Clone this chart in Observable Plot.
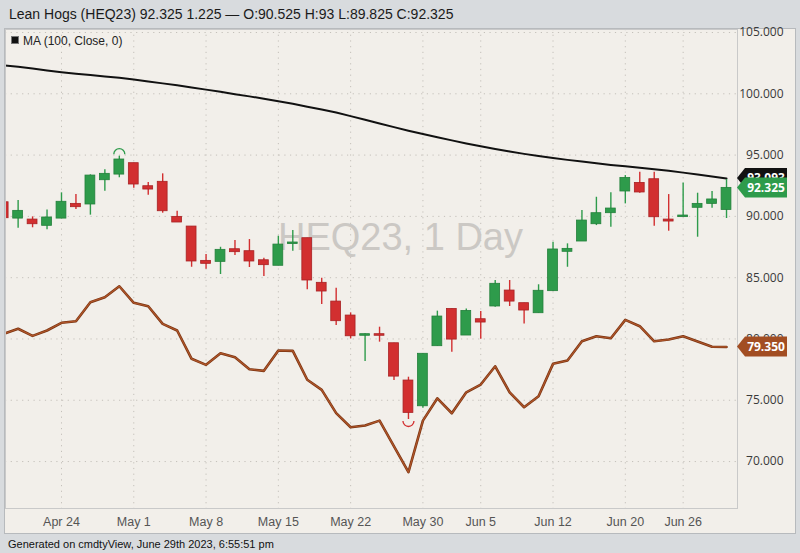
<!DOCTYPE html>
<html><head><meta charset="utf-8">
<script src="https://cdn.jsdelivr.net/npm/d3@7"></script>
<script src="https://cdn.jsdelivr.net/npm/@observablehq/plot@0.6"></script>
<style>
html,body{margin:0;padding:0;background:#d8dbde;}
#chart{width:800px;height:553px;position:relative;}
</style></head><body><div id="chart"></div>
<script>
// Trading days (categories)
const dates = ["Apr 18","Apr 19","Apr 20","Apr 21","Apr 24","Apr 25","Apr 26","Apr 27","Apr 28",
  "May 1","May 2","May 3","May 4","May 5","May 8","May 9","May 10","May 11","May 12",
  "May 15","May 16","May 17","May 18","May 19","May 22","May 23","May 24","May 25","May 26",
  "May 30","May 31","Jun 1","Jun 2","Jun 5","Jun 6","Jun 7","Jun 8","Jun 9",
  "Jun 12","Jun 13","Jun 14","Jun 15","Jun 16","Jun 20","Jun 21","Jun 22","Jun 23",
  "Jun 26","Jun 27","Jun 28","Jun 29"];
const opens = [91.15,89.82,89.74,89.23,89.82,91.02,90.97,92.95,93.41,
  94.34,92.46,92.82,89.96,89.17,86.37,86.29,87.32,87.16,86.42,
  85.97,87.76,88.22,84.58,83.05,81.91,80.34,80.39,79.65,76.61,
  74.51,79.41,82.45,80.28,81.61,82.65,83.95,82.92,82.10,
  83.90,87.11,87.95,89.36,90.26,92.03,92.73,93.03,89.74,
  89.96,90.70,91.02,90.525];
const highs = [91.30,91.30,89.96,90.53,91.92,91.78,93.39,93.80,94.91,
  94.34,92.76,93.47,90.42,89.17,86.89,87.48,88.03,88.11,86.59,
  88.38,88.85,88.22,84.96,84.14,82.13,80.42,80.96,79.65,76.88,
  78.79,82.27,82.45,82.45,82.24,84.77,84.77,82.92,84.42,
  87.89,87.76,90.48,91.56,91.92,93.33,93.60,93.60,91.78,
  92.73,91.89,92.03,93.00];
const lows = [89.70,89.03,89.07,88.90,89.80,90.56,90.10,92.05,93.15,
  92.30,91.73,90.26,89.50,85.85,85.69,85.26,86.81,85.83,85.09,
  85.97,87.16,84.01,82.81,81.09,80.00,78.16,79.74,76.61,73.43,
  74.35,79.41,78.92,80.28,79.98,82.59,82.65,81.23,82.10,
  83.90,85.85,87.95,89.25,89.12,91.02,91.89,89.20,88.79,
  89.96,88.30,90.67,89.825];
const closes = [89.85,90.45,89.36,89.91,91.19,90.75,93.33,93.47,94.64,
  92.60,92.19,90.42,89.50,86.32,86.13,87.27,87.08,86.32,86.02,
  87.70,87.87,84.77,83.87,81.45,80.22,80.39,80.28,76.93,73.97,
  78.79,81.83,79.95,82.29,81.34,84.50,83.05,82.32,83.93,
  87.30,87.35,89.66,90.26,90.64,93.14,91.95,89.93,89.58,
  90.07,91.02,91.38,92.325];
// MA (100, Close, 0)
const maValues = [102.31,102.20,102.06,101.90,101.76,101.64,101.53,101.42,101.30,
  101.16,101.00,100.85,100.69,100.52,100.34,100.16,99.97,99.79,99.60,
  99.40,99.18,98.95,98.72,98.47,98.18,97.88,97.58,97.28,96.99,
  96.72,96.46,96.20,95.95,95.72,95.50,95.30,95.10,94.92,
  94.76,94.61,94.47,94.33,94.20,94.08,93.96,93.84,93.72,
  93.57,93.42,93.26,93.093];
// Comparison series (brown line)
const compareValues = [80.42,80.83,80.25,80.69,81.32,81.45,83.00,83.41,84.30,
  82.95,82.67,81.23,80.69,78.38,77.89,78.84,78.51,77.53,77.40,
  79.06,79.03,76.67,75.85,73.95,72.80,72.94,73.34,71.24,69.13,
  73.34,75.16,73.94,75.65,76.28,77.77,75.65,74.43,75.33,
  77.97,78.24,79.81,80.22,80.06,81.56,81.04,79.81,79.95,
  80.22,79.79,79.36,79.35];
const yTicks = [70,75,80,85,90,95,100,105];
const xTickLabels = ["Apr 24","May 1","May 8","May 15","May 22","May 30","Jun 5","Jun 12","Jun 20","Jun 26"];
const highMarkerDate = "Apr 28";
const lowMarkerDate = "May 26";

const G = "#2e9b4b", GS = "#23803b", R = "#d22f30", RS = "#a82224";
const rows = dates.map((d, i) => ({i, date: d, open: opens[i], high: highs[i], low: lows[i], close: closes[i], ma: maValues[i], cmp: compareValues[i]}));
const xTickIdx = xTickLabels.map(l => dates.indexOf(l));
const up = d => d.close >= d.open;
const minH = 0.13;
const bodyTop = d => Math.max(d.open, d.close);
const bodyBot = d => Math.min(d.open, d.close) - (Math.abs(d.close - d.open) < minH ? minH - Math.abs(d.close - d.open) : 0);

const arcUp = {draw(ctx){ const r = 5.5; ctx.moveTo(-r, 0); ctx.arc(0, 0, r, Math.PI, 2 * Math.PI); }};
const arcDown = {draw(ctx){ const r = 5.5; ctx.moveTo(r, 0); ctx.arc(0, 0, r, 0, Math.PI); }};

const plot = Plot.plot({
  width: 800, height: 553,
  marginLeft: 5, marginRight: 63, marginTop: 29, marginBottom: 45,
  x: {type: "linear", domain: [0.127, 50.76], label: null},
  y: {domain: [66.17, 105.245], label: null},
  color: {type: "identity"},
  style: {background: "transparent", fontFamily: "'Open Sans', sans-serif", fontSize: "12px", color: "#444"},
  marks: [
    Plot.ruleY(yTicks, {stroke: "#c4c0ba", strokeDasharray: "1.2,4.5"}),
    Plot.ruleX(xTickIdx, {stroke: "#c4c0ba", strokeDasharray: "1.2,4.5"}),
    Plot.text(["HEQ23, 1 Day"], {frameAnchor: "middle", dx: 29, dy: -31, fontSize: 38, fontFamily: "'Liberation Sans', Arial, sans-serif", fill: "#cbc8c4"}),
    Plot.line(rows, {x: "i", y: "cmp", stroke: "#7a3412", strokeWidth: 2.6, clip: true}),
    Plot.line(rows, {x: "i", y: "cmp", stroke: "#b0562a", strokeWidth: 1.2, clip: true}),
    Plot.line(rows, {x: "i", y: "ma", stroke: "#111", strokeWidth: 2, clip: true}),
    Plot.ruleX(rows, {x: "i", y1: "low", y2: "high", stroke: d => up(d) ? G : R, strokeWidth: 1.4, clip: true}),
    Plot.rect(rows, {x1: d => d.i - 0.34, x2: d => d.i + 0.34, y1: bodyBot, y2: bodyTop, fill: d => up(d) ? G : R, stroke: d => up(d) ? GS : RS, strokeWidth: 0.8, clip: true}),
    Plot.dot(rows.filter(d => d.date === highMarkerDate), {x: "i", y: "high", dy: -2, symbol: arcUp, r: 5.5, stroke: G, fill: "none", strokeWidth: 1.3}),
    Plot.dot(rows.filter(d => d.date === lowMarkerDate), {x: "i", y: "low", dy: 1.5, symbol: arcDown, r: 5.5, stroke: R, fill: "none", strokeWidth: 1.3}),
    Plot.axisY({anchor: "right", ticks: yTicks, tickSize: 0, tickPadding: 46, textAnchor: "end", tickFormat: d => d.toFixed(3), fill: "#3a3a3a", fontSize: 12, label: null}),
    Plot.axisX({ticks: xTickIdx, tickSize: 0, tickPadding: 9, tickFormat: i => dates[i], fill: "#555", fontSize: 12.5, fontFamily: "'Liberation Sans Narrow', 'Arial Narrow', sans-serif", label: null}),
    Plot.frame({stroke: "#c9c9c9"})
  ]
});

const svg = d3.select(plot);
svg.insert("rect", ":first-child").attr("x", 4.5).attr("y", 28.5).attr("width", 791).attr("height", 505).attr("fill", "#f2efea").attr("stroke", "#b7babd");
const yScale = plot.scale("y");
const g = svg.append("g");
function tag(v, fill, label){
  const cy = yScale.apply(v);
  g.append("path").attr("d", `M737,${cy} L745,${cy-10} L787,${cy-10} L787,${cy+10} L745,${cy+10} Z`).attr("fill", fill);
  g.append("text").attr("x", 766).attr("y", cy).attr("dy", "0.36em").attr("text-anchor", "middle")
    .attr("fill", "#fff").attr("font-weight", "bold").attr("font-size", 12).attr("font-family", "'Open Sans', sans-serif").text(label);
}
tag(maValues[maValues.length - 1], "#111", maValues[maValues.length - 1].toFixed(3));
tag(closes[closes.length - 1], "#2e9b4b", closes[closes.length - 1].toFixed(3));
tag(compareValues[compareValues.length - 1], "#a24d22", compareValues[compareValues.length - 1].toFixed(3));

svg.append("text").attr("x", 9).attr("y", 19).attr("text-anchor", "start").attr("font-family", "'Liberation Sans', Arial, sans-serif").attr("font-size", 14).attr("fill", "#1a1a1a")
  .text("Lean Hogs (HEQ23) 92.325 1.225 \u2014 O:90.525 H:93 L:89.825 C:92.325");
svg.append("rect").attr("x", 11.5).attr("y", 36.5).attr("width", 7).attr("height", 7).attr("fill", "#111").attr("stroke", "#777");
svg.append("text").attr("x", 23).attr("y", 44.5).attr("text-anchor", "start").attr("font-family", "'Liberation Sans', Arial, sans-serif").attr("font-size", 12).attr("fill", "#222")
  .text("MA (100, Close, 0)");
svg.append("text").attr("x", 8).attr("y", 548).attr("text-anchor", "start").attr("font-family", "'Liberation Sans Narrow', 'Arial Narrow', sans-serif").attr("font-size", 11).attr("fill", "#111")
  .text("Generated on cmdtyView, June 29th 2023, 6:55:51 pm");

document.getElementById("chart").appendChild(plot);
</script></body></html>
